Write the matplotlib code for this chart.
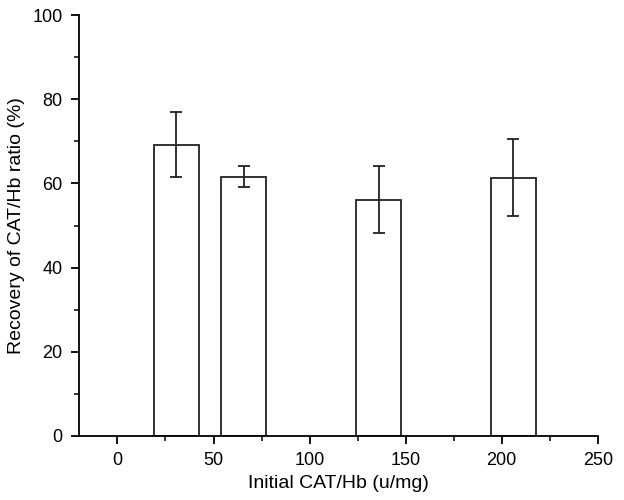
import matplotlib
matplotlib.use('Agg')
import matplotlib.pyplot as plt
from matplotlib.ticker import MultipleLocator

# data
ratio = [30.7, 65.8, 135.9, 206.0]        # initial CAT/Hb (u/mg)
recovery = [69.2, 61.6, 56.1, 61.4]       # recovery (%)
err_up = [7.7, 2.6, 8.0, 9.1]
err_down = [7.7, 2.5, 8.0, 9.2]
bar_width = 23.4

plt.rcParams['font.family'] = ['Liberation Sans', 'DejaVu Sans']

fig = plt.figure(figsize=(6.24, 5.0), dpi=100)
ax = fig.add_axes([0.1266, 0.128, 0.8314, 0.842])

ax.bar(ratio, recovery, width=bar_width, color='white', edgecolor='#222222', linewidth=1.3,
       yerr=[err_down, err_up], capsize=4,
       error_kw=dict(ecolor='#222222', elinewidth=1.3, capthick=1.3))

ax.set_xlim(-20, 250)
ax.set_ylim(0, 100)
ax.xaxis.set_major_locator(MultipleLocator(50))
ax.xaxis.set_minor_locator(MultipleLocator(25))
ax.yaxis.set_major_locator(MultipleLocator(20))
ax.yaxis.set_minor_locator(MultipleLocator(10))

for s in ['top', 'right']:
    ax.spines[s].set_visible(False)
for s in ['left', 'bottom']:
    ax.spines[s].set_linewidth(1.3)

ax.tick_params(which='major', direction='out', length=5.8, width=1.3, labelsize=13, pad=6)
ax.tick_params(which='minor', direction='out', length=3.4, width=1.1)

ax.set_xlabel('Initial CAT/Hb (u/mg)', fontsize=14, labelpad=4)
ax.set_ylabel('Recovery of CAT/Hb ratio (%)', fontsize=14, labelpad=5)

fig.savefig('out.png', dpi=100)
